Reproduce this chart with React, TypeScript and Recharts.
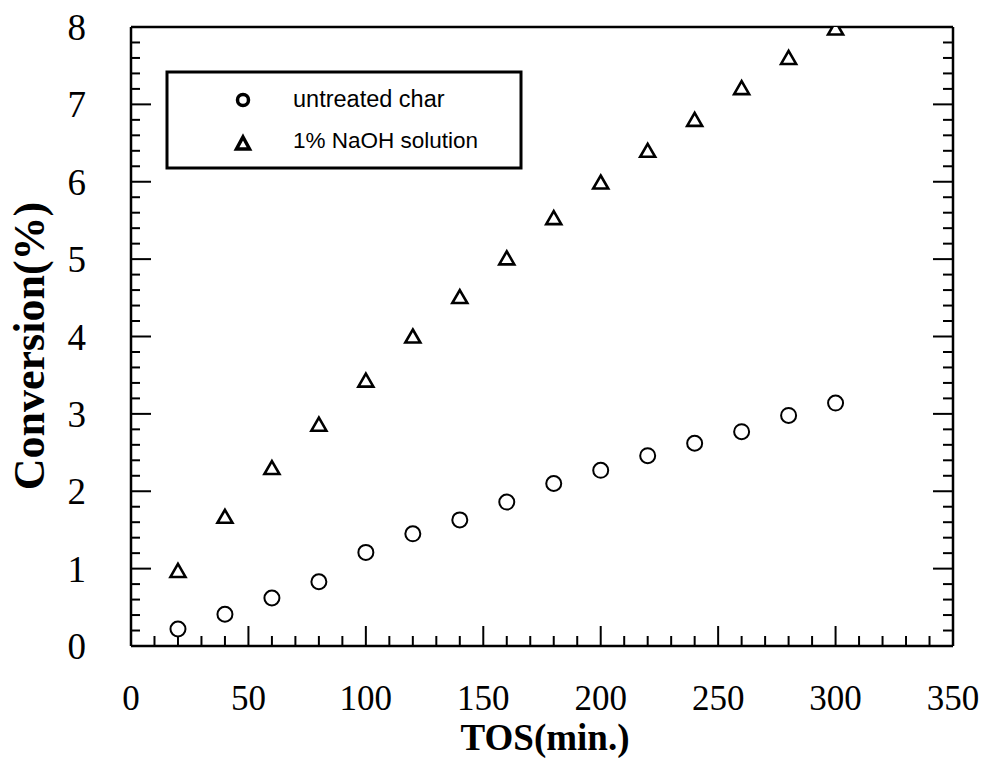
import React from "react";
import { ScatterChart, Scatter, XAxis, YAxis, Customized } from "recharts";

// ---- data ----
const tos = [20, 40, 60, 80, 100, 120, 140, 160, 180, 200, 220, 240, 260, 280, 300];
const untreatedChar = [0.22, 0.41, 0.62, 0.83, 1.21, 1.45, 1.63, 1.86, 2.1, 2.27, 2.46, 2.62, 2.77, 2.98, 3.14];
const naohSolution = [0.97, 1.67, 2.3, 2.86, 3.43, 4.0, 4.51, 5.01, 5.53, 5.99, 6.4, 6.8, 7.21, 7.6, 7.98];
const seriesNames = ["untreated char", "1% NaOH solution"];
const xTickLabels = [0, 50, 100, 150, 200, 250, 300, 350];
const yTickLabels = [0, 1, 2, 3, 4, 5, 6, 7, 8];
const xTitle = "TOS(min.)";
const yTitle = "Conversion(%)";

const xDomain: [number, number] = [0, 350];
const yDomain: [number, number] = [0, 8];
const xMinorTicks = Array.from({ length: 36 }, (_, k) => k * 10);
const yMinorTicks = Array.from({ length: 41 }, (_, k) => Math.round(k * 2) / 10);

const untreatedData = tos.map((t, i) => ({ x: t, y: untreatedChar[i] }));
const naohData = tos.map((t, i) => ({ x: t, y: naohSolution[i] }));

const SERIF = "'Liberation Serif', 'Times New Roman', serif";
const SANS = "'Liberation Sans', Arial, sans-serif";
const MINOR = 10;
const MAJOR = 20;

const isMajorX = (v: number) => xTickLabels.includes(v);
const isMajorY = (v: number) => yTickLabels.some((t) => Math.abs(v - t) < 1e-6);

const BottomTick = (props: any) => {
  const { x, y, payload } = props;
  const v = payload.value;
  const major = isMajorX(v);
  return (
    <g>
      <line x1={x} x2={x} y1={y} y2={y - (major ? MAJOR : MINOR)} stroke="#000" strokeWidth={2} />
      {major && (
        <text x={x} y={y + 64} textAnchor="middle" fontFamily={SERIF} fontSize={35} fill="#000">
          {v}
        </text>
      )}
    </g>
  );
};

const TopTick = (props: any) => {
  const { x, y, payload } = props;
  const major = isMajorX(payload.value);
  return <line x1={x} x2={x} y1={y} y2={y + (major ? MAJOR : MINOR)} stroke="#000" strokeWidth={2} />;
};

const LeftTick = (props: any) => {
  const { x, y, payload } = props;
  const v = payload.value;
  const major = isMajorY(v);
  return (
    <g>
      <line x1={x} x2={x + (major ? MAJOR : 9)} y1={y} y2={y} stroke="#000" strokeWidth={2} />
      {major && (
        <text x={x - 45} y={y + 13} textAnchor="end" fontFamily={SERIF} fontSize={37} fill="#000">
          {Math.round(v)}
        </text>
      )}
    </g>
  );
};

const RightTick = (props: any) => {
  const { x, y, payload } = props;
  const major = isMajorY(payload.value);
  return <line x1={x} x2={x - (major ? MAJOR : MINOR)} y1={y} y2={y} stroke="#000" strokeWidth={2} />;
};

const CircleShape = (props: any) => {
  const { cx, cy } = props;
  return <circle cx={cx} cy={cy} r={7.5} fill="#fff" stroke="#000" strokeWidth={2} />;
};

const TriangleShape = (props: any) => {
  const { cx, cy } = props;
  const d = `M${cx},${cy - 7} L${cx + 7.5},${cy + 6} L${cx - 7.5},${cy + 6} Z`;
  return <path d={d} fill="#fff" stroke="#000" strokeWidth={2.6} strokeLinejoin="miter" />;
};

const Titles = () => (
  <g>
    <text x={545} y={750} textAnchor="middle" fontFamily={SERIF} fontWeight="bold" fontSize={37} fill="#000">
      {xTitle}
    </text>
    <text
      x={0}
      y={0}
      transform="translate(44,346) rotate(-90)"
      textAnchor="middle"
      fontFamily={SERIF}
      fontWeight="bold"
      fontSize={44}
      fill="#000"
    >
      {yTitle}
    </text>
  </g>
);

const LegendBox = () => (
  <g>
    <rect x={167} y={72} width={354} height={96} fill="#fff" stroke="#000" strokeWidth={3} />
    <circle cx={243} cy={100} r={5.5} fill="#fff" stroke="#000" strokeWidth={3.5} />
    <path d="M243,137 L249.5,149 L236.5,149 Z" fill="#fff" stroke="#000" strokeWidth={3.5} />
    <text x={293} y={107} fontFamily={SANS} fontSize={23.5} fill="#000">
      {seriesNames[0]}
    </text>
    <text x={293} y={148} fontFamily={SANS} fontSize={22.5} fill="#000">
      {seriesNames[1]}
    </text>
  </g>
);

export default function App() {
  return (
    <div style={{ position: "absolute", left: 0, top: 0, background: "#fff" }}>
      <ScatterChart width={989} height={758} margin={{ top: 26, right: 35, bottom: 0, left: 0 }}>
        <XAxis
          xAxisId={0}
          type="number"
          dataKey="x"
          domain={xDomain}
          ticks={xMinorTicks}
          interval={0}
          orientation="bottom"
          height={112}
          tickSize={0}
          tickMargin={0}
          tickLine={false}
          axisLine={{ stroke: "#000", strokeWidth: 2.5 }}
          tick={BottomTick}
          allowDataOverflow
        />
        <XAxis
          xAxisId="top"
          type="number"
          domain={xDomain}
          ticks={xMinorTicks}
          interval={0}
          orientation="top"
          height={1}
          tickSize={0}
          tickMargin={0}
          tickLine={false}
          axisLine={{ stroke: "#000", strokeWidth: 2.5 }}
          tick={TopTick}
          allowDataOverflow
        />
        <YAxis
          yAxisId={0}
          type="number"
          dataKey="y"
          domain={yDomain}
          ticks={yMinorTicks}
          interval={0}
          orientation="left"
          width={131}
          tickSize={0}
          tickMargin={0}
          tickLine={false}
          axisLine={{ stroke: "#000", strokeWidth: 2.5 }}
          tick={LeftTick}
          allowDataOverflow
        />
        <YAxis
          yAxisId="right"
          type="number"
          domain={yDomain}
          ticks={yMinorTicks}
          interval={0}
          orientation="right"
          width={1}
          tickSize={0}
          tickMargin={0}
          tickLine={false}
          axisLine={{ stroke: "#000", strokeWidth: 2.5 }}
          tick={RightTick}
          allowDataOverflow
        />
        <Scatter
          name={seriesNames[0]}
          data={untreatedData}
          xAxisId={0}
          yAxisId={0}
          shape={CircleShape}
          isAnimationActive={false}
        />
        <Scatter
          name={seriesNames[1]}
          data={naohData}
          xAxisId={0}
          yAxisId={0}
          shape={TriangleShape}
          isAnimationActive={false}
        />
        <Customized component={LegendBox} />
        <Customized component={Titles} />
      </ScatterChart>
    </div>
  );
}
